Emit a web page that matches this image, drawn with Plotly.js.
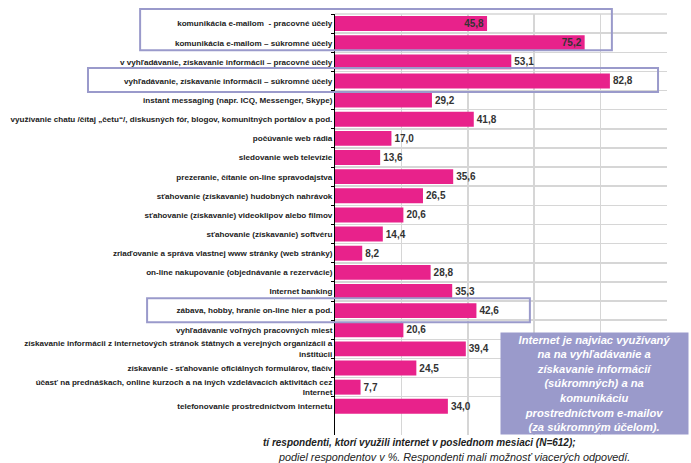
<!DOCTYPE html>
<html>
<head>
<meta charset="utf-8">
<script src="https://cdn.plot.ly/plotly-3.0.1.min.js"></script>
<style>html,body{margin:0;padding:0;background:#fff;}#chart{width:691px;height:463px;}</style>
</head>
<body>
<div id="chart"></div>
<script>
const categories = [
  "komunikácia e-mailom  - pracovné účely",
  "komunikácia e-mailom – súkromné účely",
  "v vyhľadávanie, získavanie informácii – pracovné účely",
  "vyhľadávanie, získavanie informácii – súkromné účely",
  "instant messaging (napr. ICQ, Messenger, Skype)",
  "využívanie chatu /čítaj „četu“/, diskusných fór, blogov, komunitných portálov a pod.",
  "počúvanie web rádia",
  "sledovanie web televízie",
  "prezeranie, čítanie on-line spravodajstva",
  "sťahovanie (získavanie) hudobných nahrávok",
  "sťahovanie (získavanie) videoklipov alebo filmov",
  "sťahovanie (získavanie) softvéru",
  "zriaďovanie a správa vlastnej www stránky (web stránky)",
  "on-line nakupovanie (objednávanie a rezervácie)",
  "Internet banking",
  "zábava, hobby, hranie on-line hier a pod.",
  "vyhľadávanie voľných pracovných miest",
  "získavanie informácii z internetových stránok štátnych a verejných organizácii a<br>inštitúcii",
  "získavanie - sťahovanie oficiálnych formulárov, tlačív",
  "účasť na prednáškach, online kurzoch a na iných vzdelávacích aktivitách cez<br>Internet",
  "telefonovanie prostredníctvom internetu"
];
const values = [45.8, 75.2, 53.1, 82.8, 29.2, 41.8, 17.0, 13.6, 35.6, 26.5, 20.6, 14.4, 8.2, 28.8, 35.3, 42.6, 20.6, 39.4, 24.5, 7.7, 34.0];
const labelPositions = values.map((v, i) => i < 2 ? "inside" : "outside");
const noteText = "<b><i>Internet je najviac využívaný<br>na na vyhľadávanie a<br>získavanie informácií<br>(súkromných) a na<br>komunikáciu<br>prostredníctvom e-mailov<br>(za súkromným účelom).</i></b>";
const footnote1 = "<b><i>tí respondenti, ktorí využili internet v poslednom mesiaci (N=612);</i></b>";
const footnote2 = "<i>podiel respondentov v %. Respondenti mali možnosť viacerých odpovedí.</i>";

const boxColor = "#9a9acb";
const fam = "Liberation Sans, Arial, sans-serif";
const trace = {
  type: "bar",
  orientation: "h",
  x: values,
  y: categories,
  marker: {color: "#e8228b"},
  width: 0.78,
  texttemplate: "%{x:.1f}",
  textposition: labelPositions,
  insidetextanchor: "end",
  constraintext: "none",
  textangle: 0,
  cliponaxis: false,
  textfont: {family: fam, size: 10, color: "#333333", weight: "bold"},
  insidetextfont: {family: fam, size: 10, color: "#333333", weight: "bold"},
  outsidetextfont: {family: fam, size: 10, color: "#333333", weight: "bold"},
  hoverinfo: "none"
};

function rect(x0, x1, y0, y1) {
  return {type: "rect", xref: "paper", yref: "paper", x0, x1, y0, y1,
          line: {color: boxColor, width: 2}, fillcolor: "rgba(0,0,0,0)", layer: "above"};
}

const layout = {
  width: 691, height: 463,
  margin: {l: 335, r: 24, t: 14, b: 28},
  paper_bgcolor: "#ffffff", plot_bgcolor: "#ffffff",
  separators: ", ",
  showlegend: false,
  font: {family: fam, color: "#222"},
  xaxis: {range: [0, 100], dtick: 20, showgrid: true, gridcolor: "#d6d6d6", gridwidth: 1.5,
          showticklabels: false, zeroline: false, showline: false, ticks: "", fixedrange: true},
  yaxis: {type: "category", range: [21.5, -0.5], tickson: "boundaries", ticks: "outside", ticklen: 3,
          tickcolor: "#000", showline: true, linecolor: "#000", linewidth: 1,
          showgrid: true, gridcolor: "#d6d6d6", gridwidth: 1.5,
          tickfont: {family: fam, size: 8.1, color: "#222", weight: "bold"},
          fixedrange: true},
  shapes: [
    {type: "line", xref: "paper", yref: "paper", x0: 0, x1: 1, y0: 1, y1: 1, line: {color: "#d6d6d6", width: 1.5}},
    rect(-0.587, 0.834, 1.012, 0.914),
    rect(-0.744, 0.973, 0.872, 0.815),
    rect(-0.566, 0.587, 0.325, 0.268)
  ],
  annotations: [
    {xref: "paper", yref: "paper", x: 0.7816, y: 0.1235, xanchor: "center", yanchor: "middle",
     text: noteText, showarrow: false, bgcolor: boxColor, width: 187, height: 101, borderpad: 0,
     align: "center", font: {family: fam, size: 11.2, color: "#ffffff"}},
    {xref: "paper", yref: "paper", x: 0.256, y: -0.019, xanchor: "center", yanchor: "middle",
     text: footnote1, showarrow: false,
     font: {family: fam, size: 10, color: "#222"}},
    {xref: "paper", yref: "paper", x: 0.358, y: -0.052, xanchor: "center", yanchor: "middle",
     text: footnote2, showarrow: false,
     font: {family: fam, size: 10.8, color: "#222"}}
  ]
};

Plotly.newPlot("chart", [trace], layout, {displayModeBar: false, staticPlot: true});
</script>
</body>
</html>
